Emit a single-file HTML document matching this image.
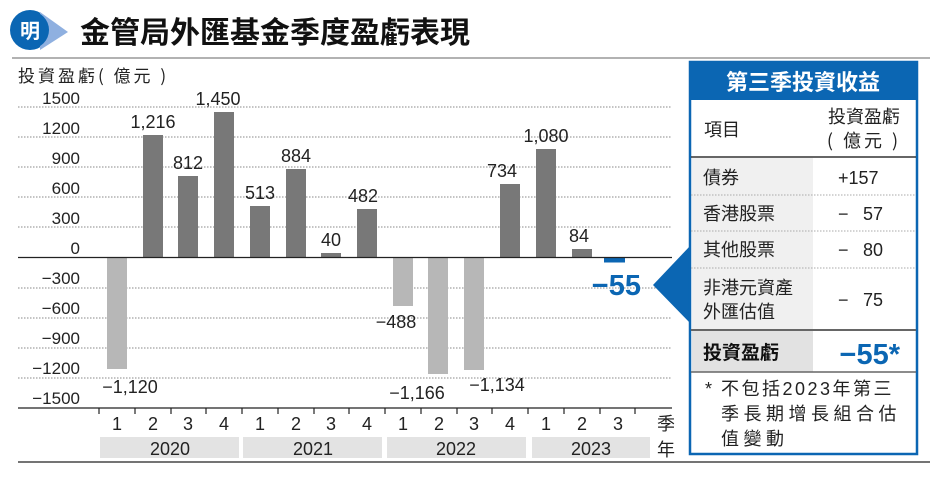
<!DOCTYPE html>
<html><head><meta charset="utf-8"><style>
body{margin:0;background:#fff}
svg{display:block}
text{font-family:"Liberation Sans","Noto Sans CJK TC",sans-serif}
.cj{font-family:"Noto Sans CJK TC","Liberation Sans",sans-serif}
</style></head><body>
<svg width="930" height="478" viewBox="0 0 930 478" xmlns="http://www.w3.org/2000/svg">
<circle cx="30" cy="30" r="20" fill="#0b66b3"/>
<path d="M40 12 L68 32 L40 50 Z" fill="#8fb0e0"/>
<circle cx="30" cy="30" r="19" fill="#0b66b3"/>
<text x="30" y="38" font-size="20" fill="#fff" text-anchor="middle" class="cj" font-weight="bold">明</text>
<text x="80" y="43" font-size="30" font-weight="bold" class="cj" fill="#111">金管局外匯基金季度盈虧表現</text>
<line x1="12" y1="58" x2="930" y2="58" stroke="#999" stroke-width="1.5"/>
<text x="18" y="82" font-size="17" class="cj" fill="#222" letter-spacing="3">投資盈虧( 億元 )</text>
<g stroke="#888" stroke-width="1" stroke-dasharray="1.5,1.5">
<line x1="18" y1="107" x2="672" y2="107"/><line x1="18" y1="137" x2="672" y2="137"/>
<line x1="18" y1="167" x2="672" y2="167"/><line x1="18" y1="197" x2="672" y2="197"/>
<line x1="18" y1="227" x2="672" y2="227"/>
<line x1="18" y1="288" x2="672" y2="288"/><line x1="18" y1="318" x2="672" y2="318"/>
<line x1="18" y1="348" x2="672" y2="348"/><line x1="18" y1="378" x2="672" y2="378"/>
</g>
<g font-size="17" fill="#222" text-anchor="end">
<text x="80" y="104">1500</text><text x="80" y="134">1200</text><text x="80" y="164">900</text>
<text x="80" y="194">600</text><text x="80" y="224">300</text><text x="80" y="254">0</text>
<text x="80" y="284">−300</text><text x="80" y="314">−600</text><text x="80" y="344">−900</text>
<text x="80" y="374">−1200</text><text x="80" y="404">−1500</text>
</g>
<g fill="#b7b7b7">
<rect x="107" y="257" width="20" height="112"/>
<rect x="393" y="257" width="20" height="49"/>
<rect x="428" y="257" width="20" height="117"/>
<rect x="464" y="257" width="20" height="113"/>
</g>
<g fill="#787878">
<rect x="143" y="135" width="20" height="122"/>
<rect x="178" y="176" width="20" height="81"/>
<rect x="214" y="112" width="20" height="145"/>
<rect x="250" y="206" width="20" height="51"/>
<rect x="286" y="169" width="20" height="88"/>
<rect x="321" y="253" width="20" height="4"/>
<rect x="357" y="209" width="20" height="48"/>
<rect x="500" y="184" width="20" height="73"/>
<rect x="536" y="149" width="20" height="108"/>
<rect x="572" y="249" width="20" height="8"/>
</g>
<rect x="604" y="257" width="21" height="5.5" fill="#0b66b3"/>
<line x1="18" y1="257.5" x2="672" y2="257.5" stroke="#222" stroke-width="1.2"/>
<g font-size="18" fill="#222" text-anchor="middle">
<text x="153" y="128">1,216</text><text x="188" y="169">812</text><text x="218" y="105">1,450</text>
<text x="260" y="199">513</text><text x="296" y="162">884</text><text x="331" y="246">40</text>
<text x="363" y="202">482</text><text x="502" y="177">734</text><text x="546" y="142">1,080</text>
<text x="579" y="242">84</text>
<text x="130" y="393">−1,120</text><text x="396" y="328">−488</text>
<text x="417" y="399">−1,166</text><text x="497" y="391">−1,134</text>
</g>
<text x="641" y="295" font-size="29" font-weight="bold" fill="#0b66b3" text-anchor="end">−55</text>
<line x1="18" y1="408" x2="672" y2="408" stroke="#222" stroke-width="1.2"/>
<g stroke="#222" stroke-width="1.2">
<line x1="99" y1="408" x2="99" y2="414"/><line x1="135" y1="408" x2="135" y2="414"/><line x1="171" y1="408" x2="171" y2="414"/>
<line x1="206" y1="408" x2="206" y2="414"/><line x1="242" y1="408" x2="242" y2="414"/><line x1="278" y1="408" x2="278" y2="414"/>
<line x1="314" y1="408" x2="314" y2="414"/><line x1="349" y1="408" x2="349" y2="414"/><line x1="385" y1="408" x2="385" y2="414"/>
<line x1="421" y1="408" x2="421" y2="414"/><line x1="457" y1="408" x2="457" y2="414"/><line x1="492" y1="408" x2="492" y2="414"/>
<line x1="528" y1="408" x2="528" y2="414"/><line x1="564" y1="408" x2="564" y2="414"/><line x1="600" y1="408" x2="600" y2="414"/>
<line x1="635" y1="408" x2="635" y2="414"/>
</g>
<g font-size="18" fill="#222" text-anchor="middle">
<text x="117" y="430">1</text><text x="153" y="430">2</text><text x="188" y="430">3</text><text x="224" y="430">4</text>
<text x="260" y="430">1</text><text x="296" y="430">2</text><text x="331" y="430">3</text><text x="367" y="430">4</text>
<text x="403" y="430">1</text><text x="439" y="430">2</text><text x="474" y="430">3</text><text x="510" y="430">4</text>
<text x="546" y="430">1</text><text x="582" y="430">2</text><text x="618" y="430">3</text>
</g>
<g fill="#e3e3e3">
<rect x="100" y="437" width="139" height="21"/><rect x="243" y="437" width="139" height="21"/>
<rect x="387" y="437" width="139" height="21"/><rect x="532" y="437" width="118" height="21"/>
</g>
<g font-size="18" fill="#222" text-anchor="middle">
<text x="170" y="455">2020</text><text x="313" y="455">2021</text><text x="456" y="455">2022</text><text x="591" y="455">2023</text>
</g>
<text x="666" y="430" font-size="18" class="cj" text-anchor="middle" fill="#222">季</text>
<text x="666" y="456" font-size="18" class="cj" text-anchor="middle" fill="#222">年</text>
<line x1="18" y1="462" x2="930" y2="462" stroke="#222" stroke-width="1.2"/>
<path d="M653 285 L690 246 L690 323 Z" fill="#0b66b3"/>
<rect x="690" y="62" width="227" height="392" fill="#fff" stroke="#0b66b3" stroke-width="2.5"/>
<rect x="690" y="62" width="227" height="38" fill="#0b66b3"/>
<text x="803" y="90" font-size="22" font-weight="bold" class="cj" fill="#fff" text-anchor="middle">第三季投資收益</text>
<text x="704" y="136" font-size="18" class="cj" fill="#222">項目</text>
<text x="864" y="123" font-size="18" class="cj" fill="#222" text-anchor="middle">投資盈虧</text>
<text x="864" y="147" font-size="18" class="cj" fill="#222" text-anchor="middle" letter-spacing="3">( 億元 )</text>
<line x1="691" y1="157" x2="916" y2="157" stroke="#333" stroke-width="1.5"/>
<rect x="692" y="158" width="121" height="171" fill="#f0f0f0"/>
<g stroke="#aaa" stroke-dasharray="1.5,1.5"><line x1="691" y1="195" x2="916" y2="195"/><line x1="691" y1="231" x2="916" y2="231"/><line x1="691" y1="268" x2="916" y2="268"/></g>
<g font-size="18" class="cj" fill="#222">
<text x="703" y="184">債券</text><text x="703" y="220">香港股票</text><text x="703" y="256">其他股票</text>
<text x="703" y="294">非港元資產</text><text x="703" y="318">外匯估值</text>
</g>
<g font-size="18" fill="#222">
<text x="838" y="184">+157</text><text x="838" y="220">−</text><text x="863" y="220">57</text>
<text x="838" y="256">−</text><text x="863" y="256">80</text><text x="838" y="306">−</text><text x="863" y="306">75</text>
</g>
<line x1="691" y1="330" x2="916" y2="330" stroke="#666" stroke-width="2"/>
<rect x="692" y="331" width="121" height="41" fill="#e2e2e2"/>
<text x="703" y="359" font-size="19" font-weight="bold" class="cj" fill="#111">投資盈虧</text>
<text x="900" y="364" font-size="29" font-weight="bold" fill="#0b66b3" text-anchor="end">−55*</text>
<line x1="691" y1="372" x2="916" y2="372" stroke="#666" stroke-width="1.5"/>
<g font-size="18" class="cj" fill="#222">
<text x="705" y="395">*</text><text x="721" y="395" letter-spacing="2.5">不包括2023年第三</text>
<text x="721" y="420" letter-spacing="4.5">季長期增長組合估</text><text x="721" y="445" letter-spacing="4.5">值變動</text>
</g>
</svg>
</body></html>
